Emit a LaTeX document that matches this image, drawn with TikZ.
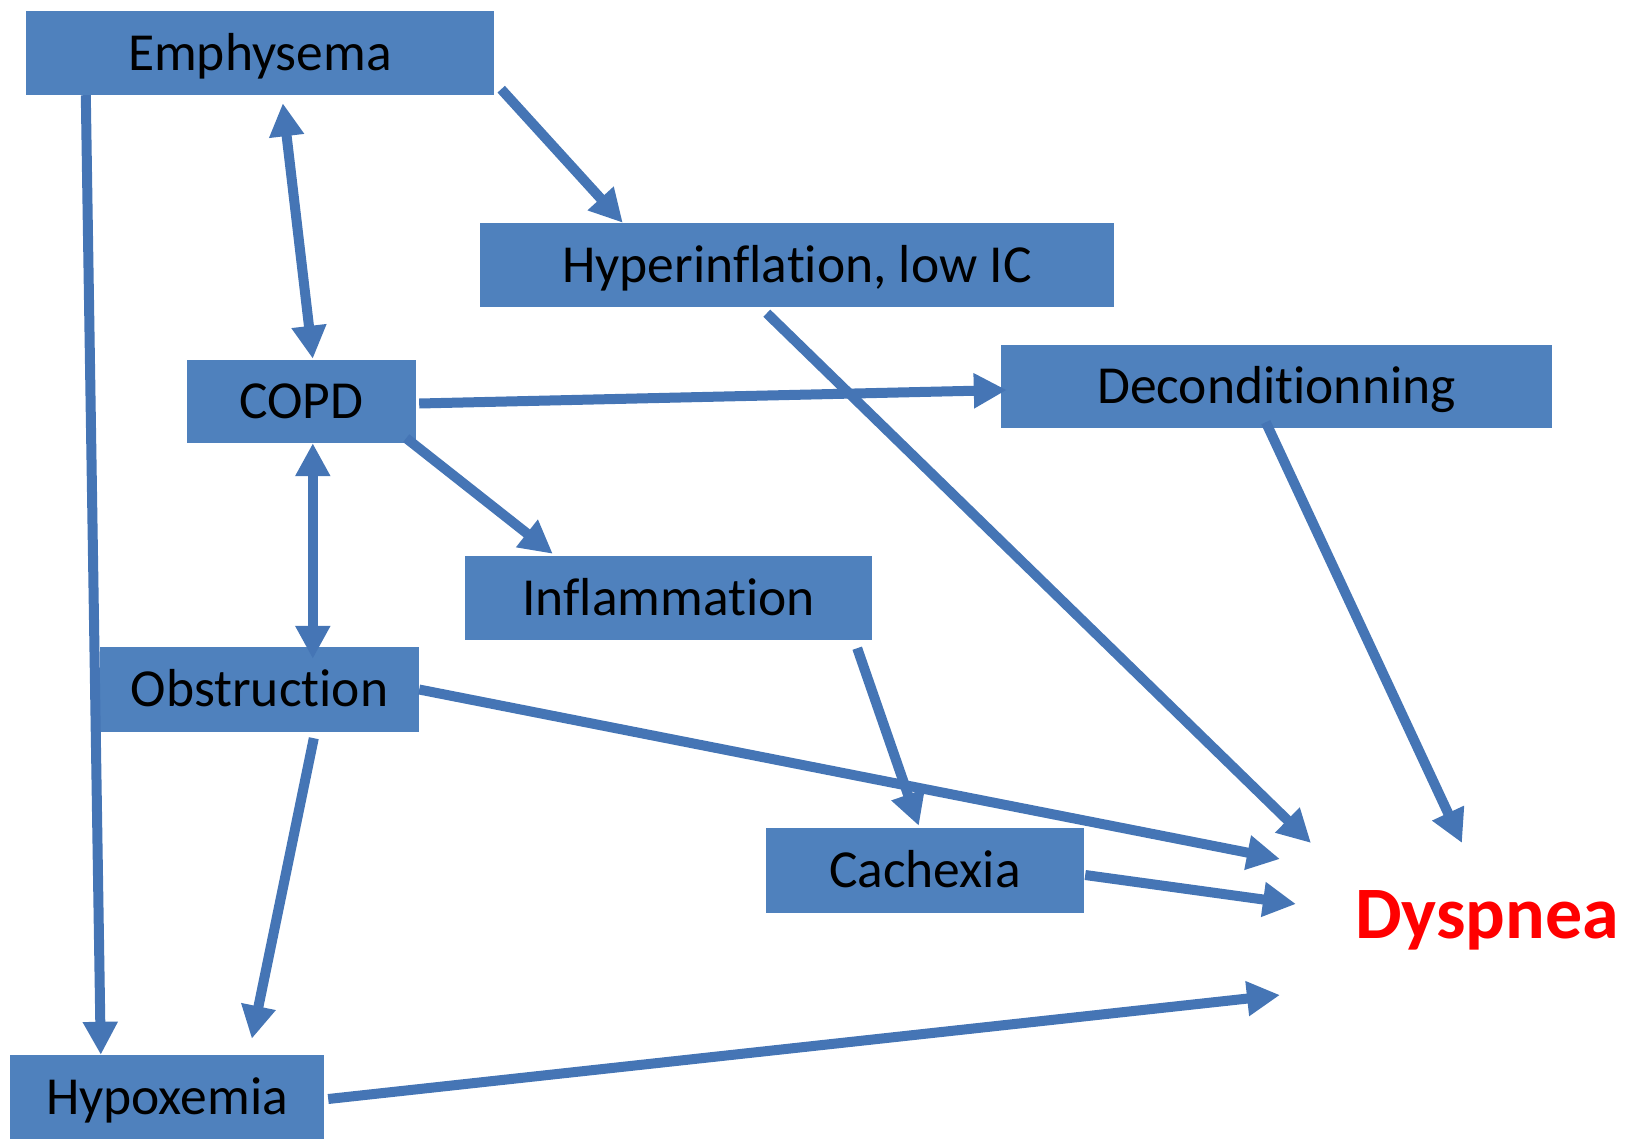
\documentclass[tikz,border=0pt]{standalone}
\usepackage{fontspec}
\setmainfont[Ligatures=NoCommon]{Carlito}
\usepackage{tikz}
\usetikzlibrary{arrows.meta}

\definecolor{boxblue}{HTML}{4F81BD}
\definecolor{arrblue}{HTML}{4575B5}

\begin{document}
\begin{tikzpicture}[x=1pt, y=-1pt, >={Triangle[length=33pt, width=33pt]},
    box/.style={rectangle, fill=boxblue, inner sep=0pt, text height=34.5pt, text depth=0pt,
                font=\fontsize{53.5}{62}\selectfont},
    arr/.style={draw=arrblue, fill=arrblue, line width=10pt}]
    \useasboundingbox (0,0) rectangle (1634,1146);

    \node[box, minimum width=468pt, minimum height=84pt] (emph) at (260,53) {Emphysema};
    \node[box, minimum width=634pt, minimum height=84pt] (hyper) at (797,265) {Hyperinflation, low IC};
    \node[box, minimum width=551pt, minimum height=83pt] (decond) at (1276.5,386.5) {Deconditionning};
    \node[box, minimum width=229pt, minimum height=83pt] (copd) at (301.5,401.5) {COPD};
    \node[box, minimum width=407pt, minimum height=84pt] (inflam) at (668.5,598) {Inflammation};
    \node[box, minimum width=319pt, minimum height=85pt] (obstr) at (259.5,689.5) {Obstruction};
    \node[box, minimum width=318pt, minimum height=85pt] (cachexia) at (925,870.5) {Cachexia};
    \node[box, minimum width=314pt, minimum height=84pt] (hypox) at (167,1097) {Hypoxemia};
    \node[anchor=base, inner sep=0pt, text=red, font=\fontsize{74}{82}\selectfont\bfseries] (dysp) at (1487,938) {Dyspnea};

    \coordinate (d1) at (1311,843);
    \coordinate (d2) at (1462,843);
    \coordinate (d3) at (1280,859);
    \coordinate (d4) at (1296,904);
    \coordinate (d5) at (1280,995);

    \path[->, every edge/.append style={arr}]
    ([xshift=60pt]emph.south west) edge ([xshift=91pt]hypox.north west)
    ([xshift=257pt, yshift=-8pt]emph.south west) edge[<->] ([xshift=126pt, yshift=1pt]copd.north west)
    ([xshift=7pt, yshift=6pt]emph.south east) edge ([xshift=143pt]hyper.north west)
    ([xshift=287pt, yshift=-6pt]hyper.south west) edge (d1)
    ([xshift=3pt, yshift=-2pt]copd.east) edge ([xshift=6pt, yshift=-3.5pt]decond.west)
    ([xshift=265pt, yshift=6pt]decond.south west) edge (d2)
    ([xshift=-10pt, yshift=5pt]copd.south east) edge ([xshift=88pt, yshift=2pt]inflam.north west)
    ([xshift=126pt]copd.south west) edge[<->] ([xshift=213pt, yshift=-12pt]obstr.north west)
    (obstr.east) edge (d3)
    ([xshift=-15pt, yshift=-8pt]inflam.south east) edge ([xshift=153pt, yshift=2pt]cachexia.north west)
    ([xshift=1pt, yshift=-4.5pt]cachexia.east) edge (d4)
    ([xshift=214pt, yshift=-6pt]obstr.south west) edge ([xshift=242pt, yshift=16pt]hypox.north west)
    ([xshift=4pt, yshift=-2pt]hypox.east) edge (d5);
\end{tikzpicture}
\end{document}
